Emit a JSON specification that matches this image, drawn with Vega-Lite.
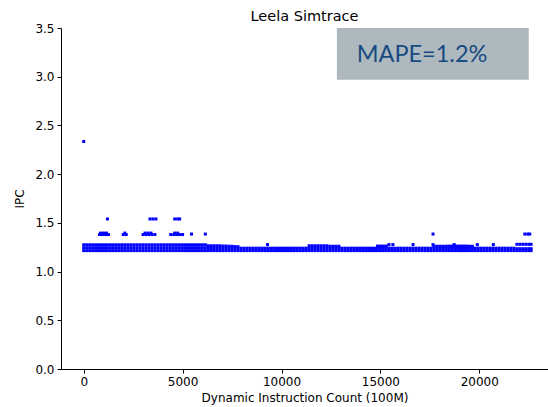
{
  "$schema": "https://vega.github.io/schema/vega-lite/v6.json",
  "width": 487,
  "height": 341,
  "autosize": {"type": "none"},
  "padding": {"left": 61, "top": 28, "right": 0, "bottom": 38},
  "background": "white",
  "title": {"text": "Leela Simtrace", "font": "DejaVu Sans", "fontSize": 14.5, "fontWeight": "normal", "color": "black", "offset": -2},
  "config": {
    "view": {"stroke": null},
    "axis": {"labelFont": "DejaVu Sans", "labelFontSize": 12, "titleFont": "DejaVu Sans", "titleFontSize": 12, "titleFontWeight": "normal", "labelColor": "black", "titleColor": "black", "domainColor": "black", "tickColor": "black", "tickSize": 4, "grid": false, "labelPadding": 3},
    "axisY": {"titlePadding": 8},
    "axisX": {"titlePadding": 5}
  },
  "layer": [
    {
      "data": {"values": [
        {"x":0,"y":1.215},{"x":0,"y":1.245},{"x":0,"y":1.275},
        {"x":150,"y":1.215},{"x":150,"y":1.245},{"x":150,"y":1.275},
        {"x":300,"y":1.215},{"x":300,"y":1.245},{"x":300,"y":1.275},
        {"x":450,"y":1.215},{"x":450,"y":1.245},{"x":450,"y":1.275},
        {"x":600,"y":1.215},{"x":600,"y":1.245},{"x":600,"y":1.275},
        {"x":750,"y":1.215},{"x":750,"y":1.245},{"x":750,"y":1.275},
        {"x":900,"y":1.215},{"x":900,"y":1.245},{"x":900,"y":1.275},
        {"x":1050,"y":1.215},{"x":1050,"y":1.245},{"x":1050,"y":1.275},
        {"x":1200,"y":1.215},{"x":1200,"y":1.245},{"x":1200,"y":1.275},
        {"x":1350,"y":1.215},{"x":1350,"y":1.245},{"x":1350,"y":1.275},
        {"x":1500,"y":1.215},{"x":1500,"y":1.245},{"x":1500,"y":1.275},
        {"x":1650,"y":1.215},{"x":1650,"y":1.245},{"x":1650,"y":1.275},
        {"x":1800,"y":1.215},{"x":1800,"y":1.245},{"x":1800,"y":1.275},
        {"x":1950,"y":1.215},{"x":1950,"y":1.245},{"x":1950,"y":1.275},
        {"x":2100,"y":1.215},{"x":2100,"y":1.245},{"x":2100,"y":1.275},
        {"x":2250,"y":1.215},{"x":2250,"y":1.245},{"x":2250,"y":1.275},
        {"x":2400,"y":1.215},{"x":2400,"y":1.245},{"x":2400,"y":1.275},
        {"x":2550,"y":1.215},{"x":2550,"y":1.245},{"x":2550,"y":1.275},
        {"x":2700,"y":1.215},{"x":2700,"y":1.245},{"x":2700,"y":1.275},
        {"x":2850,"y":1.215},{"x":2850,"y":1.245},{"x":2850,"y":1.275},
        {"x":3000,"y":1.215},{"x":3000,"y":1.245},{"x":3000,"y":1.275},
        {"x":3150,"y":1.215},{"x":3150,"y":1.245},{"x":3150,"y":1.275},
        {"x":3300,"y":1.215},{"x":3300,"y":1.245},{"x":3300,"y":1.275},
        {"x":3450,"y":1.215},{"x":3450,"y":1.245},{"x":3450,"y":1.275},
        {"x":3600,"y":1.215},{"x":3600,"y":1.245},{"x":3600,"y":1.275},
        {"x":3750,"y":1.215},{"x":3750,"y":1.245},{"x":3750,"y":1.275},
        {"x":3900,"y":1.215},{"x":3900,"y":1.245},{"x":3900,"y":1.275},
        {"x":4050,"y":1.215},{"x":4050,"y":1.245},{"x":4050,"y":1.275},
        {"x":4200,"y":1.215},{"x":4200,"y":1.245},{"x":4200,"y":1.275},
        {"x":4350,"y":1.215},{"x":4350,"y":1.245},{"x":4350,"y":1.275},
        {"x":4500,"y":1.215},{"x":4500,"y":1.245},{"x":4500,"y":1.275},
        {"x":4650,"y":1.215},{"x":4650,"y":1.245},{"x":4650,"y":1.275},
        {"x":4800,"y":1.215},{"x":4800,"y":1.245},{"x":4800,"y":1.275},
        {"x":4950,"y":1.215},{"x":4950,"y":1.245},{"x":4950,"y":1.275},
        {"x":5100,"y":1.215},{"x":5100,"y":1.245},{"x":5100,"y":1.275},
        {"x":5250,"y":1.215},{"x":5250,"y":1.245},{"x":5250,"y":1.275},
        {"x":5400,"y":1.215},{"x":5400,"y":1.245},{"x":5400,"y":1.275},
        {"x":5550,"y":1.215},{"x":5550,"y":1.245},{"x":5550,"y":1.275},
        {"x":5700,"y":1.215},{"x":5700,"y":1.245},{"x":5700,"y":1.275},
        {"x":5850,"y":1.215},{"x":5850,"y":1.245},{"x":5850,"y":1.275},
        {"x":6000,"y":1.215},{"x":6000,"y":1.245},{"x":6000,"y":1.275},
        {"x":6150,"y":1.215},{"x":6150,"y":1.245},{"x":6150,"y":1.275},
        {"x":6300,"y":1.215},{"x":6300,"y":1.24},{"x":6300,"y":1.265},
        {"x":6450,"y":1.215},{"x":6450,"y":1.24},{"x":6450,"y":1.265},
        {"x":6600,"y":1.215},{"x":6600,"y":1.24},{"x":6600,"y":1.265},
        {"x":6750,"y":1.215},{"x":6750,"y":1.24},{"x":6750,"y":1.265},
        {"x":6900,"y":1.215},{"x":6900,"y":1.24},{"x":6900,"y":1.265},
        {"x":7050,"y":1.215},{"x":7050,"y":1.24},{"x":7050,"y":1.262},
        {"x":7200,"y":1.215},{"x":7200,"y":1.24},{"x":7200,"y":1.262},
        {"x":7350,"y":1.215},{"x":7350,"y":1.24},{"x":7350,"y":1.26},
        {"x":7500,"y":1.215},{"x":7500,"y":1.24},{"x":7500,"y":1.26},
        {"x":7650,"y":1.215},{"x":7650,"y":1.24},{"x":7650,"y":1.257},
        {"x":7800,"y":1.215},{"x":7800,"y":1.24},{"x":7800,"y":1.255},
        {"x":7950,"y":1.215},{"x":7950,"y":1.24},
        {"x":8100,"y":1.215},{"x":8100,"y":1.24},
        {"x":8250,"y":1.215},{"x":8250,"y":1.24},
        {"x":8400,"y":1.215},{"x":8400,"y":1.24},
        {"x":8550,"y":1.215},{"x":8550,"y":1.24},
        {"x":8700,"y":1.215},{"x":8700,"y":1.24},
        {"x":8850,"y":1.215},{"x":8850,"y":1.24},
        {"x":9000,"y":1.215},{"x":9000,"y":1.24},
        {"x":9150,"y":1.215},{"x":9150,"y":1.24},
        {"x":9300,"y":1.215},{"x":9300,"y":1.24},
        {"x":9450,"y":1.215},{"x":9450,"y":1.24},
        {"x":9600,"y":1.215},{"x":9600,"y":1.24},
        {"x":9750,"y":1.215},{"x":9750,"y":1.24},
        {"x":9900,"y":1.215},{"x":9900,"y":1.24},
        {"x":10050,"y":1.215},{"x":10050,"y":1.24},
        {"x":10200,"y":1.215},{"x":10200,"y":1.24},
        {"x":10350,"y":1.215},{"x":10350,"y":1.24},
        {"x":10500,"y":1.215},{"x":10500,"y":1.24},
        {"x":10650,"y":1.215},{"x":10650,"y":1.24},
        {"x":10800,"y":1.215},{"x":10800,"y":1.24},
        {"x":10950,"y":1.215},{"x":10950,"y":1.24},
        {"x":11100,"y":1.215},{"x":11100,"y":1.24},
        {"x":11250,"y":1.215},{"x":11250,"y":1.24},
        {"x":11400,"y":1.215},{"x":11400,"y":1.24},{"x":11400,"y":1.265},
        {"x":11550,"y":1.215},{"x":11550,"y":1.24},{"x":11550,"y":1.265},
        {"x":11700,"y":1.215},{"x":11700,"y":1.24},{"x":11700,"y":1.265},
        {"x":11850,"y":1.215},{"x":11850,"y":1.24},{"x":11850,"y":1.265},
        {"x":12000,"y":1.215},{"x":12000,"y":1.24},{"x":12000,"y":1.265},
        {"x":12150,"y":1.215},{"x":12150,"y":1.24},{"x":12150,"y":1.265},
        {"x":12300,"y":1.215},{"x":12300,"y":1.24},{"x":12300,"y":1.265},
        {"x":12450,"y":1.215},{"x":12450,"y":1.24},{"x":12450,"y":1.26},
        {"x":12600,"y":1.215},{"x":12600,"y":1.24},{"x":12600,"y":1.26},
        {"x":12750,"y":1.215},{"x":12750,"y":1.24},{"x":12750,"y":1.26},
        {"x":12900,"y":1.215},{"x":12900,"y":1.24},{"x":12900,"y":1.26},
        {"x":13050,"y":1.215},{"x":13050,"y":1.24},
        {"x":13200,"y":1.215},{"x":13200,"y":1.24},
        {"x":13350,"y":1.215},{"x":13350,"y":1.24},
        {"x":13500,"y":1.215},{"x":13500,"y":1.24},
        {"x":13650,"y":1.215},{"x":13650,"y":1.24},
        {"x":13800,"y":1.215},{"x":13800,"y":1.24},
        {"x":13950,"y":1.215},{"x":13950,"y":1.24},
        {"x":14100,"y":1.215},{"x":14100,"y":1.24},
        {"x":14250,"y":1.215},{"x":14250,"y":1.24},
        {"x":14400,"y":1.215},{"x":14400,"y":1.24},
        {"x":14550,"y":1.215},{"x":14550,"y":1.24},
        {"x":14700,"y":1.215},{"x":14700,"y":1.24},
        {"x":14850,"y":1.215},{"x":14850,"y":1.24},{"x":14850,"y":1.262},
        {"x":15000,"y":1.215},{"x":15000,"y":1.24},{"x":15000,"y":1.262},
        {"x":15150,"y":1.215},{"x":15150,"y":1.24},{"x":15150,"y":1.262},
        {"x":15300,"y":1.215},{"x":15300,"y":1.24},{"x":15300,"y":1.262},
        {"x":15450,"y":1.215},{"x":15450,"y":1.24},
        {"x":15600,"y":1.215},{"x":15600,"y":1.24},
        {"x":15750,"y":1.215},{"x":15750,"y":1.24},
        {"x":15900,"y":1.215},{"x":15900,"y":1.24},
        {"x":16050,"y":1.215},{"x":16050,"y":1.24},
        {"x":16200,"y":1.215},{"x":16200,"y":1.24},
        {"x":16350,"y":1.215},{"x":16350,"y":1.24},
        {"x":16500,"y":1.215},{"x":16500,"y":1.24},
        {"x":16650,"y":1.215},{"x":16650,"y":1.24},
        {"x":16800,"y":1.215},{"x":16800,"y":1.24},
        {"x":16950,"y":1.215},{"x":16950,"y":1.24},
        {"x":17100,"y":1.215},{"x":17100,"y":1.24},
        {"x":17250,"y":1.215},{"x":17250,"y":1.24},
        {"x":17400,"y":1.215},{"x":17400,"y":1.24},
        {"x":17550,"y":1.215},{"x":17550,"y":1.24},
        {"x":17700,"y":1.215},{"x":17700,"y":1.24},{"x":17700,"y":1.26},
        {"x":17850,"y":1.215},{"x":17850,"y":1.24},{"x":17850,"y":1.26},
        {"x":18000,"y":1.215},{"x":18000,"y":1.24},{"x":18000,"y":1.26},
        {"x":18150,"y":1.215},{"x":18150,"y":1.24},{"x":18150,"y":1.26},
        {"x":18300,"y":1.215},{"x":18300,"y":1.24},{"x":18300,"y":1.26},
        {"x":18450,"y":1.215},{"x":18450,"y":1.24},{"x":18450,"y":1.262},
        {"x":18600,"y":1.215},{"x":18600,"y":1.24},{"x":18600,"y":1.262},
        {"x":18750,"y":1.215},{"x":18750,"y":1.24},{"x":18750,"y":1.262},
        {"x":18900,"y":1.215},{"x":18900,"y":1.24},{"x":18900,"y":1.262},
        {"x":19050,"y":1.215},{"x":19050,"y":1.24},{"x":19050,"y":1.262},
        {"x":19200,"y":1.215},{"x":19200,"y":1.24},{"x":19200,"y":1.262},
        {"x":19350,"y":1.215},{"x":19350,"y":1.24},{"x":19350,"y":1.262},
        {"x":19500,"y":1.215},{"x":19500,"y":1.24},{"x":19500,"y":1.26},
        {"x":19650,"y":1.215},{"x":19650,"y":1.24},{"x":19650,"y":1.26},
        {"x":19800,"y":1.215},{"x":19800,"y":1.24},
        {"x":19950,"y":1.215},{"x":19950,"y":1.24},
        {"x":20100,"y":1.215},{"x":20100,"y":1.24},
        {"x":20250,"y":1.215},{"x":20250,"y":1.24},
        {"x":20400,"y":1.215},{"x":20400,"y":1.24},
        {"x":20550,"y":1.215},{"x":20550,"y":1.24},
        {"x":20700,"y":1.215},{"x":20700,"y":1.24},
        {"x":20850,"y":1.215},{"x":20850,"y":1.24},
        {"x":21000,"y":1.215},{"x":21000,"y":1.24},
        {"x":21150,"y":1.215},{"x":21150,"y":1.24},
        {"x":21300,"y":1.215},{"x":21300,"y":1.24},
        {"x":21450,"y":1.215},{"x":21450,"y":1.24},
        {"x":21600,"y":1.215},{"x":21600,"y":1.24},
        {"x":21750,"y":1.215},{"x":21750,"y":1.24},
        {"x":21900,"y":1.215},{"x":21900,"y":1.235},{"x":21900,"y":1.28},
        {"x":22050,"y":1.215},{"x":22050,"y":1.235},{"x":22050,"y":1.28},
        {"x":22200,"y":1.215},{"x":22200,"y":1.235},{"x":22200,"y":1.28},
        {"x":22350,"y":1.215},{"x":22350,"y":1.235},{"x":22350,"y":1.28},
        {"x":22500,"y":1.215},{"x":22500,"y":1.235},{"x":22500,"y":1.28},
        {"x":22620,"y":1.215},{"x":22620,"y":1.235},{"x":22620,"y":1.28},
        {"x":0,"y":2.335},
        {"x":800,"y":1.38},{"x":950,"y":1.38},{"x":1100,"y":1.38},{"x":1250,"y":1.38},
        {"x":850,"y":1.395},{"x":1000,"y":1.395},{"x":1150,"y":1.395},
        {"x":2000,"y":1.38},{"x":2150,"y":1.38},{"x":2080,"y":1.395},
        {"x":3000,"y":1.38},{"x":3150,"y":1.38},{"x":3300,"y":1.38},{"x":3450,"y":1.38},{"x":3600,"y":1.38},
        {"x":3100,"y":1.395},{"x":3250,"y":1.395},{"x":3400,"y":1.395},
        {"x":4400,"y":1.38},{"x":4550,"y":1.38},{"x":4700,"y":1.38},{"x":4850,"y":1.38},{"x":5000,"y":1.38},
        {"x":4600,"y":1.395},{"x":4750,"y":1.395},
        {"x":5450,"y":1.385},{"x":6150,"y":1.385},
        {"x":1200,"y":1.54},
        {"x":3350,"y":1.54},{"x":3500,"y":1.54},{"x":3650,"y":1.54},
        {"x":4600,"y":1.54},{"x":4750,"y":1.54},{"x":4850,"y":1.54},
        {"x":9290,"y":1.277},{"x":15430,"y":1.277},{"x":15630,"y":1.277},{"x":16650,"y":1.277},
        {"x":17660,"y":1.277},{"x":18730,"y":1.277},{"x":19900,"y":1.277},{"x":20710,"y":1.277},
        {"x":17660,"y":1.385},{"x":22300,"y":1.385},{"x":22450,"y":1.385},{"x":22550,"y":1.385}
      ]},
      "mark": {"type": "point", "shape": "square", "filled": true, "size": 9, "color": "#0000ff", "opacity": 1, "strokeWidth": 0, "clip": true},
      "encoding": {
        "x": {"field": "x", "type": "quantitative", "scale": {"domain": [-1148, 23473], "nice": false, "zero": false},
              "axis": {"values": [0, 5000, 10000, 15000, 20000], "format": "d"}, "title": "Dynamic Instruction Count (100M)"},
        "y": {"field": "y", "type": "quantitative", "scale": {"domain": [0, 3.5], "nice": false},
              "axis": {"values": [0, 0.5, 1, 1.5, 2, 2.5, 3, 3.5], "format": ".1f"}, "title": "IPC"}
      }
    },
    {
      "data": {"values": [{"x1": 12800, "x2": 22500, "y1": 2.97, "y2": 3.5, "label": "MAPE=1.2%", "tx": 13800, "ty": 3.152}]},
      "layer": [
        {
          "mark": {"type": "rect", "color": "#aeb9bf"},
          "encoding": {
            "x": {"field": "x1", "type": "quantitative", "scale": {"domain": [-1148, 23473], "nice": false, "zero": false}, "title": "Dynamic Instruction Count (100M)"},
            "x2": {"field": "x2"},
            "y": {"field": "y1", "type": "quantitative", "scale": {"domain": [0, 3.5], "nice": false}, "title": "IPC"},
            "y2": {"field": "y2"}
          }
        },
        {
          "mark": {"type": "text", "align": "left", "baseline": "alphabetic", "font": "Lato", "fontSize": 23.5, "color": "#184a82"},
          "encoding": {
            "x": {"field": "tx", "type": "quantitative", "scale": {"domain": [-1148, 23473], "nice": false, "zero": false}, "title": "Dynamic Instruction Count (100M)"},
            "y": {"field": "ty", "type": "quantitative", "scale": {"domain": [0, 3.5], "nice": false}, "title": "IPC"},
            "text": {"field": "label"}
          }
        }
      ]
    },
    {
      "mark": {"type": "rule", "color": "black", "strokeWidth": 1},
      "encoding": {"y": {"datum": 3.5, "type": "quantitative", "scale": {"domain": [0, 3.5], "nice": false}, "title": "IPC"}}
    }
  ]
}
